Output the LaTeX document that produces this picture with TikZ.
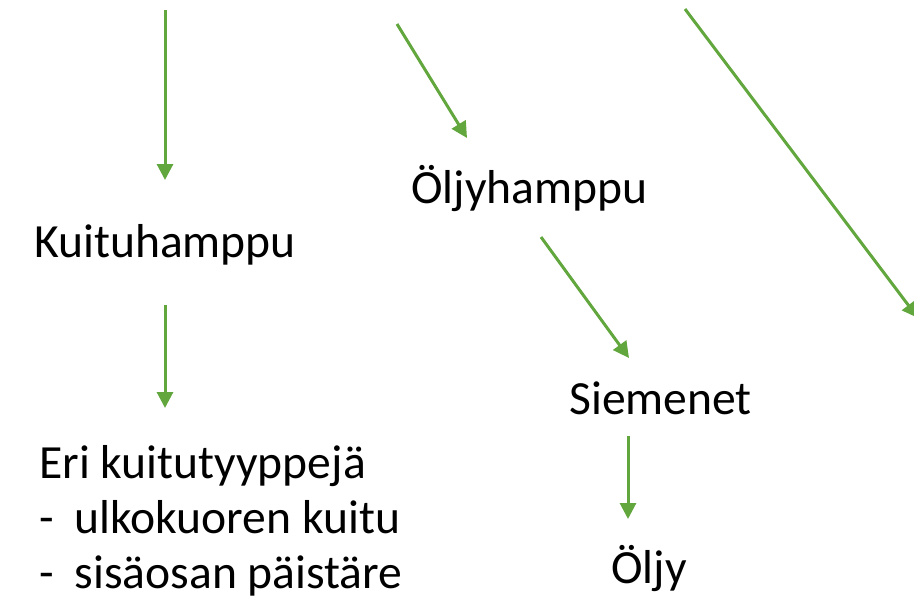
\documentclass[tikz,border=0pt]{standalone}
\usepackage{fontspec}
\setmainfont{Carlito}
\usetikzlibrary{calc}
\usetikzlibrary{arrows.meta}
\definecolor{arrowgreen}{RGB}{98,166,62}

\begin{document}
\begin{tikzpicture}[x=0.75pt,y=-0.75pt,
		txt/.style={anchor=base west, inner sep=0pt, font=\fontsize{35.7}{41}\selectfont},
		arr/.style={draw=arrowgreen, line width=2.25pt, -{Triangle[length=12pt,width=12pt]}}]
			\useasboundingbox (0,0) rectangle (914,597);

			\node[txt] (kuitu) at (34,257) {Kuituhamppu};
			\node[txt] (olj) at (411,203) {Öljyhamppu};
			\node[txt] (siem) at (569,414) {Siemenet};
			\node[txt] (oljy) at (611,583) {Öljy};
			\node[txt, align=left, font=\fontsize{35.7}{41.25}\selectfont] (eri) at (39,588) {Eri kuitutyyppejä\\
				\makebox[26.5pt][l]{-}ulkokuoren kuitu\\
				\makebox[26.5pt][l]{-}sisäosan päistäre};

			%nuolten paat
			\coordinate (a1) at (165,10);
			\coordinate (b1) at (165,180);
			\coordinate (a2) at (165,305);
			\coordinate (b2) at (165,408);
			\coordinate (a3) at (397,24);
			\coordinate (b3) at (467,138);
			\coordinate (a4) at (541,237);
			\coordinate (b4) at (629,358);
			\coordinate (a5) at (628,436);
			\coordinate (b5) at (628,519);
			\coordinate (a6) at (685,9);
			\coordinate (b6) at (918,318);

			\draw[arr] (a1) -- (b1);
			\draw[arr] (a2) -- (b2);
			\draw[arr] (a3) -- (b3);
			\draw[arr] (a4) -- (b4);
			\draw[arr] (a5) -- (b5);
			\draw[arr] (a6) -- (b6);

		\end{tikzpicture}
\end{document}
